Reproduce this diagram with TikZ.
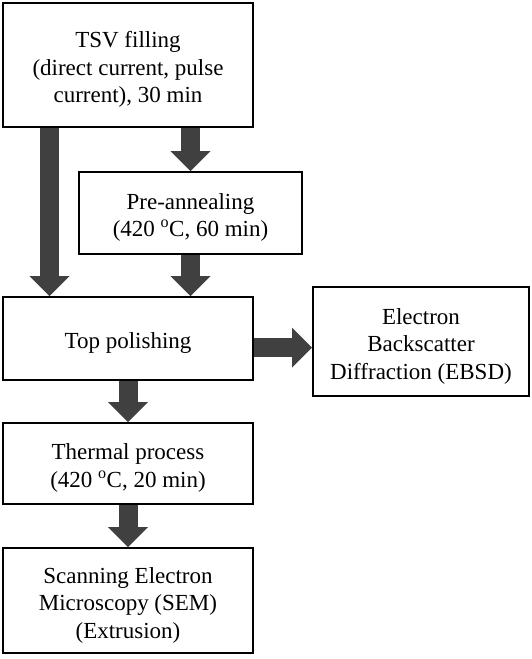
\documentclass[tikz,border=0pt]{standalone}
\usepackage{fontspec}
\setmainfont{Liberation Serif}
\usepackage{xcolor}
\usepackage{tikz}
\usetikzlibrary{arrows.meta, positioning, calc}

\definecolor{arrowgray}{RGB}{64,64,64}
\newcommand{\toplift}{\rule{0pt}{25pt}}

\begin{document}
\begin{tikzpicture}[
    x=1pt, y=-1pt,
    step box/.style={rectangle, draw=black, line width=2.4pt,
      fill=white, align=center, inner sep=2pt,
      font=\fontsize{23}{27.5}\selectfont},
    wide box/.style={step box, minimum width=249.6pt},
    flow/.style={draw=arrowgray, line width=19pt,
      -{Triangle[width=40pt, length=20pt, line width=0pt]}},
]
\useasboundingbox (0,0) rectangle (532,659);

% ── Process steps ──
\node[wide box, minimum height=123.6pt] (tsv) at (128,65)
  {\toplift TSV filling\\(direct current, pulse\\current), 30 min};

\node[step box, minimum width=222.6pt, minimum height=81.6pt] (pre)
  at (190.5,213) {\toplift Pre-annealing\\(420 \textsuperscript{o}C, 60 min)};

\node[wide box, minimum height=82.6pt, below=168pt of tsv] (top)
  {\toplift Top polishing};

\node[step box, minimum width=215.6pt, minimum height=108.6pt,
  right=58pt of top, yshift=-3pt] (ebsd)
  {\toplift Electron\\Backscatter\\Diffraction (EBSD)};

\node[wide box, minimum height=80.6pt, below=41pt of top] (thermal)
  {\toplift Thermal process\\(420 \textsuperscript{o}C, 20 min)};

\node[wide box, minimum height=104.6pt, below=42pt of thermal] (sem)
  {\toplift Scanning Electron\\Microscopy (SEM)\\(Extrusion)};

% ── Block arrows ──
\draw[flow] ([xshift=47.5pt]tsv.south west) -- ([xshift=47.5pt]top.north west);
\draw[flow] (pre.north |- tsv.south) -- (pre.north);
\draw[flow] (pre.south) -- (pre.south |- top.north);
\draw[flow] ([yshift=-9pt]top.east) -- ([yshift=-9pt]top.east -| ebsd.west);
\draw[flow] (top) -- (thermal);
\draw[flow] (thermal) -- (sem);

\end{tikzpicture}
\end{document}
